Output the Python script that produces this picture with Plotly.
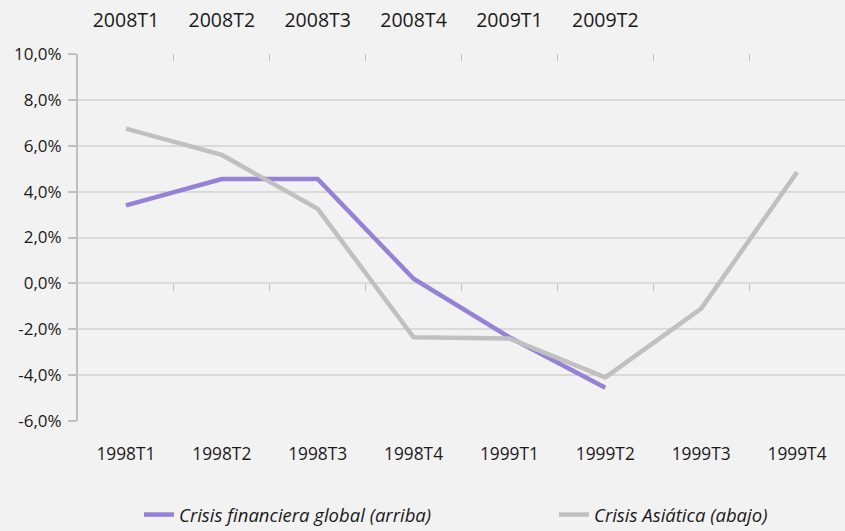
import plotly.graph_objects as go

# ---- data ----
bottom_categories = ["1998T1", "1998T2", "1998T3", "1998T4", "1999T1", "1999T2", "1999T3", "1999T4"]
top_categories = ["2008T1", "2008T2", "2008T3", "2008T4", "2009T1", "2009T2"]
global_crisis = [3.4, 4.55, 4.55, 0.2, -2.35, -4.55]          # Crisis financiera global (arriba)
asian_crisis = [6.75, 5.6, 3.25, -2.35, -2.4, -4.1, -1.1, 4.85]  # Crisis Asiática (abajo)
y_ticks = [-6, -4, -2, 0, 2, 4, 6, 8, 10]
y_tick_labels = [f"{v:.1f}%".replace(".", ",") for v in y_ticks]

PURPLE = "#9581d6"
GRAY = "#c0c0c0"
GRID = "#d9d9d9"
AXIS = "#bfbfbf"
FONT = "Open Sans, Liberation Sans, sans-serif"

W, H = 845, 531

n = len(bottom_categories)
xr = [-0.5, n - 0.5]
boundaries = [i + 0.5 for i in range(n - 1)]

fig = go.Figure()
fig.add_trace(go.Scatter(
    x=bottom_categories[:len(global_crisis)], y=global_crisis, mode="lines",
    name="Crisis financiera global (arriba)", legend="legend",
    line=dict(color=PURPLE, width=4.5), xaxis="x", yaxis="y"))
fig.add_trace(go.Scatter(
    x=bottom_categories, y=asian_crisis, mode="lines",
    name="Crisis Asiática (abajo)", legend="legend2",
    line=dict(color=GRAY, width=4.5), xaxis="x", yaxis="y"))

legend_common = dict(orientation="h", xanchor="left", yanchor="middle",
                     xref="container", yref="container",
                     font=dict(size=18.5, style="italic", family=FONT, color="#1a1a1a"),
                     bgcolor="rgba(0,0,0,0)")
legend_y = (H - 515) / H

fig.update_layout(
    width=W, height=H,
    margin=dict(l=78, r=0, t=54, b=110, autoexpand=False),
    paper_bgcolor="#f2f2f2", plot_bgcolor="#f2f2f2",
    font=dict(family=FONT, color="#1a1a1a"),
    showlegend=True,
    legend=dict(x=139 / W, y=legend_y, **legend_common),
    legend2=dict(x=554 / W, y=legend_y, **legend_common),
    xaxis=dict(type="category", categoryorder="array", categoryarray=bottom_categories,
               range=xr, showgrid=False, zeroline=False, showline=False, ticks="",
               tickfont=dict(size=17.3), ticklabelstandoff=21,
               anchor="free", position=0),
    xaxis2=dict(overlaying="x", side="top", anchor="y", range=xr, tickmode="array",
                tickvals=list(range(len(top_categories))), ticktext=top_categories,
                showgrid=False, zeroline=False, showline=False, ticks="",
                tickfont=dict(size=19.5), ticklabelstandoff=22),
    xaxis3=dict(overlaying="x", anchor="free", position=(0 - y_ticks[0]) / (y_ticks[-1] - y_ticks[0]),
                range=xr, tickmode="array", tickvals=boundaries, showticklabels=False,
                ticks="outside", ticklen=7, tickwidth=1, tickcolor=AXIS,
                showgrid=False, zeroline=False, showline=False),
    xaxis4=dict(overlaying="x", side="top", anchor="y", range=xr, tickmode="array",
                tickvals=boundaries, showticklabels=False,
                ticks="inside", ticklen=7, tickwidth=1, tickcolor=AXIS,
                showgrid=False, zeroline=False, showline=False),
    yaxis=dict(range=[y_ticks[0], y_ticks[-1]], tickmode="array", tickvals=y_ticks,
               ticktext=y_tick_labels, showgrid=True, gridcolor=GRID, gridwidth=1.5,
               zeroline=False, showline=True, linecolor=AXIS, linewidth=2,
               ticks="outside", ticklen=8, tickcolor=AXIS, tickwidth=1.5,
               tickfont=dict(size=17), ticklabelstandoff=3),
)

# invisible traces so the decorative axes are drawn
for ax in ["x2", "x3", "x4"]:
    fig.add_trace(go.Scatter(x=[None], y=[None], xaxis=ax, yaxis="y", showlegend=False,
                             hoverinfo="skip"))

fig.write_html("out.html",
               config={"displayModeBar": False},
               post_script="document.body.style.margin='0';document.body.style.overflow='hidden';")
